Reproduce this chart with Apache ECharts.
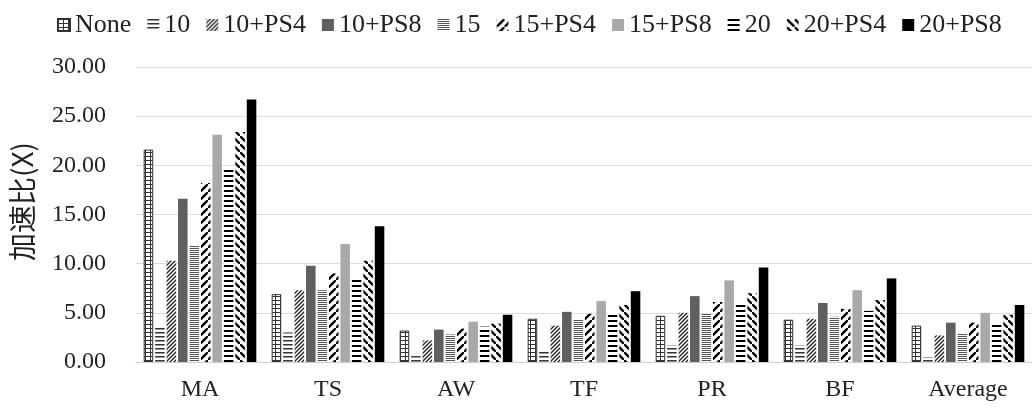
<!DOCTYPE html>
<html>
<head>
<meta charset="utf-8">
<title>加速比</title>
<script src="https://cdn.jsdelivr.net/npm/echarts@6/dist/echarts.min.js"></script>
<style>
  html, body { margin: 0; padding: 0; background: #fff; }
  #chart { width: 1032px; height: 412px; }
</style>
</head>
<body>
<div id="chart"></div>
<script>
// benchmarks on the x axis
var categories = ['MA', 'TS', 'AW', 'TF', 'PR', 'BF', 'Average'];
var seriesNames = ['None', '10', '10+PS4', '10+PS8', '15', '15+PS4', '15+PS8', '20', '20+PS4', '20+PS8'];
var yTicks = [0, 5, 10, 15, 20, 25, 30];

// speedup values, one array per configuration
var valNone   = [21.6, 6.9, 3.2, 4.4, 4.7, 4.3, 3.7];
var val10     = [3.6, 3.0, 0.6, 1.2, 1.7, 1.7, 0.5];
var val10PS4  = [10.3, 7.3, 2.2, 3.7, 5.0, 4.4, 2.7];
var val10PS8  = [16.6, 9.8, 3.3, 5.1, 6.7, 6.0, 4.0];
var val15     = [11.9, 7.3, 2.8, 4.3, 4.9, 4.6, 2.9];
var val15PS4  = [18.2, 9.0, 3.4, 4.9, 6.1, 5.4, 4.0];
var val15PS8  = [23.1, 12.0, 4.1, 6.2, 8.3, 7.3, 5.0];
var val20     = [19.7, 8.6, 3.6, 5.0, 5.8, 5.2, 4.0];
var val20PS4  = [23.4, 10.3, 3.9, 5.8, 7.0, 6.3, 4.8];
var val20PS8  = [26.7, 13.8, 4.8, 7.2, 9.6, 8.5, 5.8];

var allValues = [valNone, val10, val10PS4, val10PS8, val15, val15PS4, val15PS8, val20, val20PS4, val20PS8];

// small canvas tiles for the hatch fills
function tile(w, h, draw) {
  var c = document.createElement('canvas');
  c.width = w;
  c.height = h;
  var ctx = c.getContext('2d');
  ctx.fillStyle = '#fff';
  ctx.fillRect(0, 0, w, h);
  draw(ctx);
  return { image: c, repeat: 'repeat' };
}

var fills = [
  // None: small boxes
  tile(5, 4, function (ctx) {
    ctx.fillStyle = '#333';
    ctx.fillRect(0, 0, 5, 1);
    ctx.fillRect(0, 0, 1, 4);
  }),
  // 10: horizontal lines
  tile(4, 4, function (ctx) {
    ctx.fillStyle = '#333';
    ctx.fillRect(0, 0, 4, 1.5);
  }),
  // 10+PS4: dense diagonal
  tile(4, 4, function (ctx) {
    ctx.strokeStyle = '#222';
    ctx.lineWidth = 1.3;
    ctx.beginPath();
    ctx.moveTo(-1, 5); ctx.lineTo(5, -1);
    ctx.moveTo(-1, 1); ctx.lineTo(1, -1);
    ctx.moveTo(3, 5); ctx.lineTo(5, 3);
    ctx.stroke();
  }),
  '#5f5f5f',
  // 15: fine horizontal stripes
  tile(2, 2, function (ctx) {
    ctx.fillStyle = '#555';
    ctx.fillRect(0, 0, 2, 1);
  }),
  // 15+PS4: wide diagonal
  tile(8, 8, function (ctx) {
    ctx.strokeStyle = '#000';
    ctx.lineWidth = 2.4;
    ctx.beginPath();
    ctx.moveTo(-2, 10); ctx.lineTo(10, -2);
    ctx.stroke();
  }),
  '#a9a9a9',
  // 20: thick horizontal dashes
  tile(4, 5, function (ctx) {
    ctx.fillStyle = '#000';
    ctx.fillRect(0, 0, 4, 2);
  }),
  // 20+PS4: wide back diagonal
  tile(8, 8, function (ctx) {
    ctx.strokeStyle = '#000';
    ctx.lineWidth = 2.4;
    ctx.beginPath();
    ctx.moveTo(-2, -2); ctx.lineTo(10, 10);
    ctx.stroke();
  }),
  '#000'
];

var series = seriesNames.map(function (name, i) {
  var style = { color: fills[i] };
  if (i === 0) {
    style.borderColor = '#333';
    style.borderWidth = 1;
  }
  return {
    name: name,
    type: 'bar',
    data: allValues[i],
    itemStyle: style,
    barGap: '20%',
    barCategoryGap: '12%',
    animation: false
  };
});

var chart = echarts.init(document.getElementById('chart'));
chart.setOption({
  backgroundColor: '#fff',
  textStyle: { fontFamily: 'Liberation Serif' },
  legend: {
    left: 52,
    top: 7,
    itemWidth: 12,
    itemHeight: 12,
    itemGap: 16,
    icon: 'rect',
    textStyle: { fontFamily: 'Liberation Serif', fontSize: 26, color: '#222' },
    data: seriesNames
  },
  grid: { left: 133, top: 67, width: 905, height: 295 },
  xAxis: {
    type: 'category',
    data: categories,
    axisLine: { lineStyle: { color: '#cfcfcf' } },
    axisTick: { show: false },
    axisLabel: { fontFamily: 'Liberation Serif', fontSize: 24, color: '#222', margin: 16 }
  },
  yAxis: {
    type: 'value',
    min: yTicks[0],
    max: yTicks[yTicks.length - 1],
    interval: 5,
    name: '加速比(X)',
    nameLocation: 'middle',
    nameGap: 100,
    nameTextStyle: {
      fontFamily: 'Noto Sans CJK SC',
      fontSize: 28,
      color: '#222',
      padding: [0, 0, 0, 26]
    },
    splitLine: { lineStyle: { color: '#dcdcdc' } },
    axisLabel: {
      fontFamily: 'Liberation Serif',
      fontSize: 24,
      color: '#222',
      margin: 30,
      formatter: function (v) { return v.toFixed(2); }
    }
  },
  series: series
});
</script>
</body>
</html>
